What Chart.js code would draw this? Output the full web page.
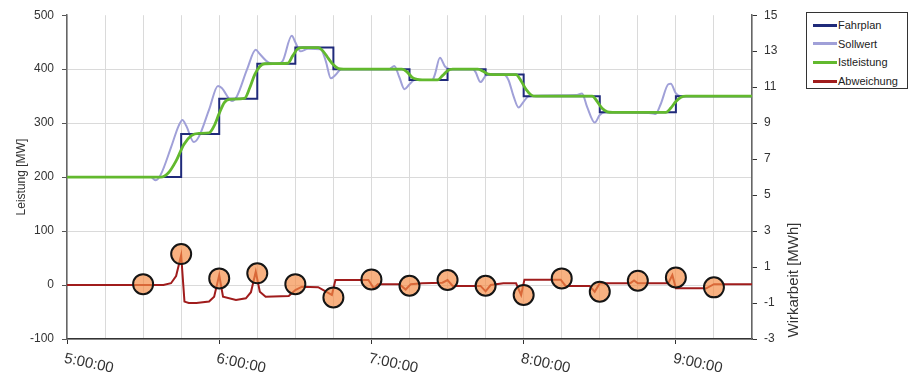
<!DOCTYPE html>
<html>
<head>
<meta charset="utf-8">
<script src="https://cdn.jsdelivr.net/npm/chart.js@4.4.1/dist/chart.umd.min.js"></script>
<style>
  html, body { margin: 0; padding: 0; background: #fff; }
  #wrap { position: relative; width: 913px; height: 378px; }
  #legende {
    position: absolute; left: 806px; top: 12px; width: 100px; height: 75px;
    border: 1px solid #333; background: #fff;
    font-family: "Liberation Sans", Arial, sans-serif; font-size: 11px; color: #222;
  }
  #legende div { position: absolute; left: 6px; height: 14px; line-height: 14px; }
  #legende span.strich { display: inline-block; width: 24px; height: 3px; vertical-align: middle; margin-right: 1px; position: relative; top: -1px; }
</style>
</head>
<body>
<div id="wrap">
  <canvas id="leistungChart" width="913" height="378"></canvas>
  <div id="legende"></div>
</div>
<script>
// Zeitachse in Minuten ab 5:00:00
const xTickWerte = [0, 60, 120, 180, 240];
const xTickTexte = ['5:00:00', '6:00:00', '7:00:00', '8:00:00', '9:00:00'];

// Fahrplan (MW), Stufen
const fahrplanMin = [0, 45, 60, 75, 90, 105, 135, 150, 165, 180, 210, 240, 270];
const fahrplanMW  = [200, 280, 345, 410, 440, 400, 380, 400, 390, 350, 320, 350, 350];

// Sollwert (MW)
const sollMin = [0, 33, 35, 37, 41, 44, 45.5, 47, 50, 52, 56, 59.5, 61, 65, 67, 71, 74.4, 76, 79.6, 83, 85, 88.6, 90, 92, 95,
  100, 102, 104, 106, 108, 127, 129, 131, 133, 135, 137, 144, 145, 147, 149, 151, 160, 161, 163, 165, 166, 172, 174, 176,
  178, 180, 182, 201, 203, 205, 208, 210, 212, 231, 232, 234, 237, 238, 240, 242, 270];
const sollMW = [200, 200, 194, 205, 255, 295, 306, 295, 265, 275, 325, 369, 365, 341, 350, 400, 436, 428, 412, 410, 415, 462, 450, 433, 438,
  437, 415, 383, 390, 400, 400, 406, 385, 363, 372, 380, 380, 390, 421, 405, 400, 400, 395, 376, 388, 390, 390, 380, 350,
  329, 340, 350, 352, 355, 330, 301, 315, 320, 318, 317, 335, 372, 373, 355, 350, 350];

// Istleistung (MW)
const istMin = [0, 37, 40, 43, 46, 49, 52, 56, 58, 60, 62, 64, 70, 72, 74, 76, 78, 87, 89, 91, 93, 99, 101, 103, 105, 107, 109,
  132, 134, 136, 138, 140, 146, 148, 150, 152, 162, 164, 166, 168, 177, 179, 181, 183, 185, 207, 209, 211, 213, 215,
  236, 238, 240, 242, 244, 270];
const istMW = [200, 200, 208, 230, 260, 277, 281, 282, 295, 318, 338, 344, 346, 365, 390, 405, 410, 411, 425, 438, 440, 440, 433, 420, 408, 401, 400,
  400, 395, 385, 381, 380, 380, 388, 397, 400, 400, 396, 391, 390, 390, 378, 362, 352, 350, 350, 340, 327, 321, 320,
  320, 328, 340, 348, 350, 350];

// Abweichung (MWh)
const abwMin = [0, 38, 41, 43, 45, 46.3, 48, 51, 56, 58, 60, 61.5, 66.6, 70.5, 72.5, 74.4, 76, 78.3, 87.4, 90, 92.6, 99, 104.4, 105.8,
  118.8, 121, 122.5, 131, 133.5, 135.5, 140, 148, 150, 152, 163, 165, 167, 172, 177, 179, 180.3, 194.6, 196.5, 206, 208, 210,
  222, 223.5, 225, 237, 238.6, 240, 252, 255, 270];
const abwMWh = [0, 0, 0.1, 0.5, 1.66, -0.92, -1.0, -1.0, -0.92, -0.65, 0.55, -0.65, -0.83, -0.74, -0.4, 0.74, -0.37, -0.65, -0.61, -0.28, -0.09, -0.12, -0.55, 0.28,
  0.28, -0.2, 0.05, 0.05, -0.25, 0.05, 0.1, 0.13, 0.28, -0.05, -0.05, -0.35, 0, 0.1, 0.1, -0.55, 0.3, 0.3, -0.05, -0.05, -0.37, 0.1,
  0.1, 0.25, 0.1, 0.1, 0.55, -0.18, -0.18, 0.05, 0.05];

// Kreise: Viertelstundenwerte der Abweichung (MWh)
const kreisMin = [30, 45, 60, 75, 90, 105, 120, 135, 150, 165, 180, 195, 210, 225, 240, 255];
const kreisMWh = [0.05, 1.72, 0.37, 0.65, 0.05, -0.69, 0.31, -0.04, 0.28, -0.04, -0.55, 0.37, -0.37, 0.24, 0.42, -0.13];

const farben = {
  fahrplan: '#1f2a7a',
  soll: '#a0a0d8',
  ist: '#62b92e',
  abw: '#a01c1c'
};

const punkte = (xs, ys) => xs.map((x, i) => ({ x: x, y: ys[i] }));
const schrift = '"Liberation Sans", Arial, sans-serif';

// Legende
const legendeEintraege = [
  ['Fahrplan', farben.fahrplan],
  ['Sollwert', farben.soll],
  ['Istleistung', farben.ist],
  ['Abweichung', farben.abw]
];
const leg = document.getElementById('legende');
legendeEintraege.forEach((e, i) => {
  const d = document.createElement('div');
  d.style.top = (5 + i * 18.7) + 'px';
  d.innerHTML = '<span class="strich" style="background:' + e[1] + '"></span>' + e[0];
  leg.appendChild(d);
});

// Achsentitel und gedrehte Zeitbeschriftung
const beschriftung = {
  id: 'beschriftung',
  afterDraw(chart) {
    const ctx = chart.ctx;
    const x = chart.scales.x;
    ctx.save();
    ctx.fillStyle = '#333';
    ctx.font = '15px ' + schrift;
    ctx.textAlign = 'left';
    ctx.textBaseline = 'top';
    xTickWerte.forEach((v, i) => {
      ctx.save();
      ctx.translate(x.getPixelForValue(v) - 1, x.top + 12);
      ctx.rotate(12 * Math.PI / 180);
      ctx.fillText(xTickTexte[i], 0, 0);
      ctx.restore();
    });
    ctx.textAlign = 'center';
    ctx.textBaseline = 'middle';
    ctx.font = '12px ' + schrift;
    ctx.save();
    ctx.translate(22, (chart.chartArea.top + chart.chartArea.bottom) / 2);
    ctx.rotate(-Math.PI / 2);
    ctx.fillText('Leistung [MW]', 0, 0);
    ctx.restore();
    ctx.font = '15px ' + schrift;
    ctx.save();
    ctx.translate(794, 280);
    ctx.rotate(-Math.PI / 2);
    ctx.fillText('Wirkarbeit [MWh]', 0, 0);
    ctx.restore();
    ctx.restore();
  }
};

new Chart(document.getElementById('leistungChart').getContext('2d'), {
  type: 'line',
  data: {
    datasets: [
      {
        label: 'Kreise',
        data: punkte(kreisMin, kreisMWh),
        yAxisID: 'y1',
        showLine: false,
        pointRadius: 10,
        pointBackgroundColor: 'rgba(244, 140, 70, 0.68)',
        pointBorderColor: '#151515',
        pointBorderWidth: 2,
        order: 0
      },
      {
        label: 'Abweichung',
        data: punkte(abwMin, abwMWh),
        yAxisID: 'y1',
        borderColor: farben.abw,
        borderWidth: 2,
        pointRadius: 0,
        tension: 0,
        order: 1
      },
      {
        label: 'Istleistung',
        data: punkte(istMin, istMW),
        yAxisID: 'y',
        borderColor: farben.ist,
        borderWidth: 2.8,
        pointRadius: 0,
        cubicInterpolationMode: 'monotone',
        order: 2
      },
      {
        label: 'Fahrplan',
        data: punkte(fahrplanMin, fahrplanMW),
        yAxisID: 'y',
        borderColor: farben.fahrplan,
        borderWidth: 2,
        pointRadius: 0,
        stepped: 'before',
        order: 3
      },
      {
        label: 'Sollwert',
        data: punkte(sollMin, sollMW),
        yAxisID: 'y',
        borderColor: farben.soll,
        borderWidth: 2,
        pointRadius: 0,
        cubicInterpolationMode: 'monotone',
        order: 4
      }
    ]
  },
  options: {
    responsive: false,
    animation: false,
    devicePixelRatio: 1,
    layout: { padding: { left: 0, right: 108, top: 14, bottom: 0 } },
    plugins: {
      legend: { display: false },
      tooltip: { enabled: false }
    },
    scales: {
      x: {
        type: 'linear',
        min: 0,
        max: 270,
        ticks: { stepSize: 15, display: false },
        grid: {
          color: '#dadada',
          lineWidth: 1,
          tickLength: 5,
          tickColor: c => (c.tick && c.tick.value % 60 === 0) ? '#333' : 'rgba(0,0,0,0)'
        },
        border: { color: '#333', width: 1.5 },
        afterFit: s => { s.height = 39; }
      },
      y: {
        position: 'left',
        min: -100,
        max: 500,
        ticks: {
          stepSize: 100,
          padding: 8,
          color: '#333',
          font: { family: schrift, size: 12 }
        },
        grid: {
          color: c => (c.tick && c.tick.value === 500) ? 'rgba(0,0,0,0)' : '#dadada',
          tickColor: '#555',
          tickLength: 5
        },
        border: { color: '#666', width: 1.5 },
        afterFit: s => { s.width = 67; }
      },
      y1: {
        position: 'right',
        min: -3,
        max: 15,
        ticks: {
          stepSize: 2,
          padding: 7,
          color: '#333',
          font: { family: schrift, size: 12 }
        },
        grid: { drawOnChartArea: false, tickColor: '#333', tickLength: 5 },
        border: { color: '#666', width: 1.5 },
        afterFit: s => { s.width = 53; }
      }
    }
  },
  plugins: [beschriftung]
});
</script>
</body>
</html>
